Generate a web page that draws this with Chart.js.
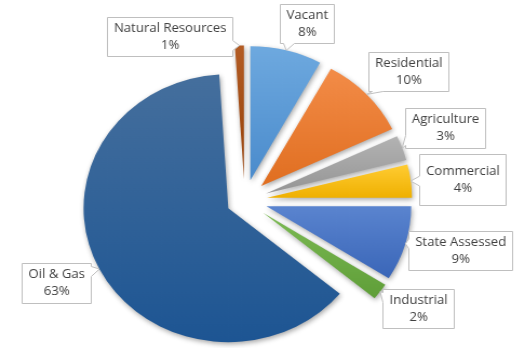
<!DOCTYPE html>
<html>
<head>
<meta charset="utf-8">
<script src="https://cdn.jsdelivr.net/npm/chart.js@4"></script>
<style>
  html, body { margin: 0; padding: 0; background: #fff; }
  canvas { display: block; }
</style>
</head>
<body>
<!-- drawn a bit narrower and shown stretched, the way the original picture is -->
<canvas id="pie" width="486" height="348" style="width:525px;height:348px"></canvas>
<script>
// data, clockwise from 12 o'clock
const categories = ['Vacant', 'Residential', 'Agriculture', 'Commercial', 'State Assessed', 'Industrial', 'Oil & Gas', 'Natural Resources'];
const shares = [8, 10, 3, 4, 9, 2, 63, 1];

// light / dark end of each slice gradient
const sliceColors = [
  ['#6ea9df', '#4a8bcc'],
  ['#f38c48', '#e06e20'],
  ['#b3b3b3', '#959595'],
  ['#ffcc33', '#efb000'],
  ['#5a84cf', '#3a66b8'],
  ['#7cba54', '#5f9e38'],
  ['#456f9d', '#1d5593'],
  ['#b35c24', '#944009']
];
// how far each slice is pulled out from the centre, px
const pull = [21, 21, 21, 21, 21, 21, 17, 21];

// label box position relative to the slice's outer mid point
const labelShift = [
  [19, -27], [39, -23], [40, -20], [48, -2], [51, 7], [35, 17], [-40, 14], [-65, -9]
];
const labelHeight = [39, 39, 40, 51, 39, 39, 40, 39];

const RADIUS = 134;
const total = shares.reduce((a, b) => a + b, 0);

// arc that is drawn moved out along its mid angle, without growing
class PulledArc extends Chart.ArcElement {
  static id = 'pulledArc';
  draw(ctx) {
    const d = pull[this.$context ? this.$context.dataIndex : 0] || 0;
    const mid = (this.startAngle + this.endAngle) / 2;
    ctx.save();
    ctx.translate(Math.cos(mid) * d, Math.sin(mid) * d);
    super.draw(ctx);
    ctx.restore();
  }
}
class PulledPie extends Chart.PieController {
  static id = 'pulledPie';
  static defaults = { dataElementType: 'pulledArc' };
}
Chart.register(PulledArc, PulledPie);

function sliceGradient(c) {
  const i = c.dataIndex;
  const chart = c.chart;
  const area = chart.chartArea;
  if (!area || i === undefined) return sliceColors[i || 0][0];
  const cy = (area.top + area.bottom) / 2;
  let before = 0;
  for (let k = 0; k < i; k++) before += shares[k];
  const a0 = before / total * Math.PI * 2;
  const a1 = (before + shares[i]) / total * Math.PI * 2;
  let top = cy, bot = cy;
  for (let s = 0; s <= 40; s++) {
    const a = a0 + (a1 - a0) * s / 40;
    const y = cy - Math.cos(a) * RADIUS;
    top = Math.min(top, y);
    bot = Math.max(bot, y);
  }
  const g = chart.ctx.createLinearGradient(0, top, 0, bot);
  g.addColorStop(0, sliceColors[i][0]);
  g.addColorStop(1, sliceColors[i][1]);
  return g;
}

const shadowPlugin = {
  id: 'sliceShadow',
  beforeDatasetsDraw(chart) {
    const ctx = chart.ctx;
    ctx.save();
    ctx.shadowColor = 'rgba(0,0,0,0.35)';
    ctx.shadowBlur = 5;
    ctx.shadowOffsetX = 1;
    ctx.shadowOffsetY = 2;
  },
  afterDatasetsDraw(chart) {
    chart.ctx.restore();
  }
};

function calloutPath(ctx, x0, y0, w, h, tx, ty) {
  const x1 = x0 + w, y1 = y0 + h, hw = 5;
  const d = { left: x0 - tx, right: tx - x1, bottom: ty - y1, top: y0 - ty };
  let side = 'left';
  for (const k in d) if (d[k] > d[side]) side = k;
  const clamp = (v, lo, hi) => Math.max(lo, Math.min(hi, v));
  const bx = clamp(tx, x0 + hw + 3, x1 - hw - 3);
  const by = clamp(ty, y0 + hw + 3, y1 - hw - 3);
  ctx.beginPath();
  ctx.moveTo(x0, y0);
  if (side === 'top') { ctx.lineTo(bx - hw, y0); ctx.lineTo(tx, ty); ctx.lineTo(bx + hw, y0); }
  ctx.lineTo(x1, y0);
  if (side === 'right') { ctx.lineTo(x1, by - hw); ctx.lineTo(tx, ty); ctx.lineTo(x1, by + hw); }
  ctx.lineTo(x1, y1);
  if (side === 'bottom') { ctx.lineTo(bx + hw, y1); ctx.lineTo(tx, ty); ctx.lineTo(bx - hw, y1); }
  ctx.lineTo(x0, y1);
  if (side === 'left') { ctx.lineTo(x0, by + hw); ctx.lineTo(tx, ty); ctx.lineTo(x0, by - hw); }
  ctx.closePath();
}

const calloutPlugin = {
  id: 'callouts',
  afterDatasetsDraw(chart) {
    const ctx = chart.ctx;
    const meta = chart.getDatasetMeta(0);
    ctx.save();
    ctx.font = '12.2px "Open Sans", sans-serif';
    ctx.textAlign = 'center';
    ctx.textBaseline = 'middle';
    meta.data.forEach((el, i) => {
      const mid = (el.startAngle + el.endAngle) / 2;
      const dist = pull[i] + el.outerRadius;
      const tx = el.x + Math.cos(mid) * dist;
      const ty = el.y + Math.sin(mid) * dist;
      const pct = Math.round(shares[i] / total * 100) + '%';
      const w = Math.round(Math.max(ctx.measureText(categories[i]).width, ctx.measureText(pct).width) + 12);
      const h = labelHeight[i];
      const cx = tx + labelShift[i][0];
      const cy = ty + labelShift[i][1];
      const x0 = Math.round(cx - w / 2) + 0.5;
      const y0 = Math.round(cy - h / 2) + 0.5;
      calloutPath(ctx, x0, y0, w, h, tx, ty);
      ctx.fillStyle = '#ffffff';
      ctx.fill();
      ctx.strokeStyle = '#bfbfbf';
      ctx.lineWidth = 1;
      ctx.stroke();
      ctx.fillStyle = '#404040';
      ctx.fillText(categories[i], x0 + w / 2, y0 + h / 2 - 8.5);
      ctx.fillText(pct, x0 + w / 2, y0 + h / 2 + 8.5);
    });
    ctx.restore();
  }
};

new Chart(document.getElementById('pie'), {
  type: 'pulledPie',
  data: {
    labels: categories,
    datasets: [{
      data: shares,
      backgroundColor: sliceGradient,
      borderWidth: 0,
      hoverOffset: 0
    }]
  },
  options: {
    responsive: false,
    animation: false,
    events: [],
    radius: RADIUS,
    layout: { padding: { left: 0, right: 33, top: 53, bottom: 0 } },
    plugins: {
      legend: { display: false },
      tooltip: { enabled: false }
    }
  },
  plugins: [shadowPlugin, calloutPlugin]
});
</script>
</body>
</html>
